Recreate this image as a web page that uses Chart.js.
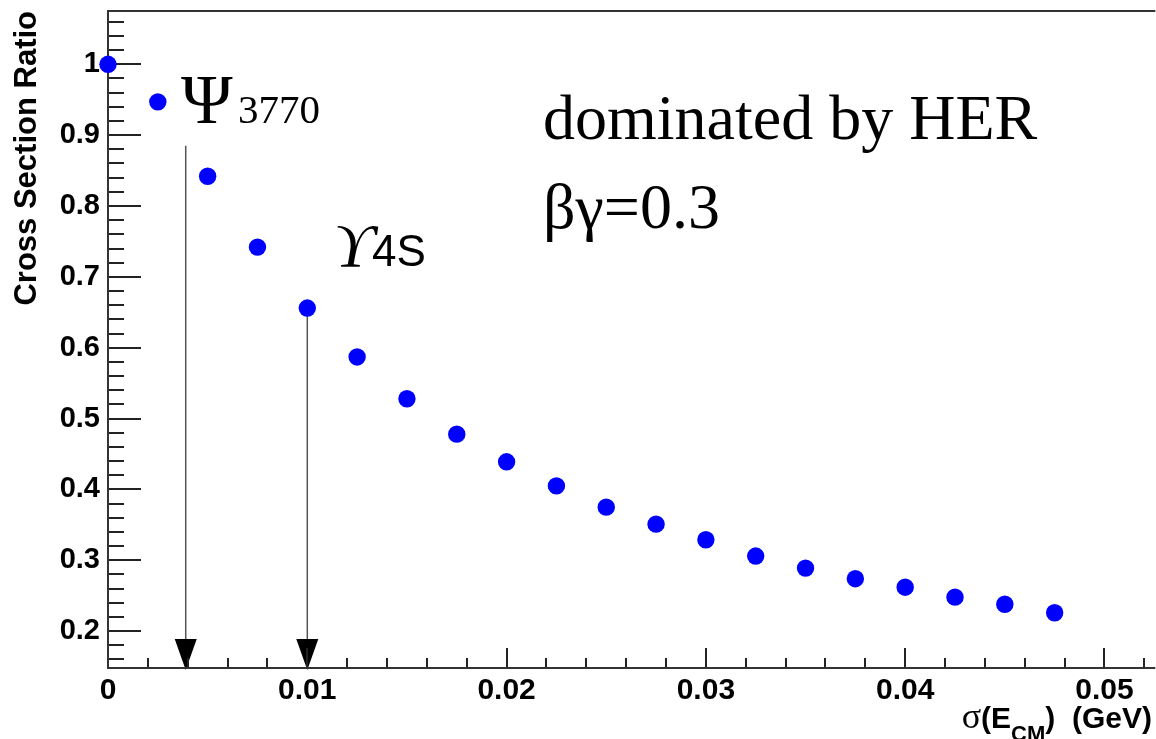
<!DOCTYPE html>
<html><head><meta charset="utf-8">
<script src="https://cdn.jsdelivr.net/npm/chart.js@4/dist/chart.umd.min.js"></script>
<style>html,body{margin:0;padding:0;background:#fff;overflow:hidden;}
#wrap{position:relative;width:1162px;height:739px;}</style>
</head><body><div id="wrap"><canvas id="c" width="1162" height="739"></canvas></div>
<script>
// ---- data ----
const sigmaE = [0, 0.0025, 0.005, 0.0075, 0.01, 0.0125, 0.015, 0.0175, 0.02, 0.0225,
                0.025, 0.0275, 0.03, 0.0325, 0.035, 0.0375, 0.04, 0.0425, 0.045, 0.0475];
const ratio  = [1.000, 0.947, 0.842, 0.742, 0.656, 0.587, 0.528, 0.478, 0.439, 0.405,
                0.375, 0.351, 0.329, 0.306, 0.289, 0.274, 0.262, 0.248, 0.238, 0.226];
const xTickValues = [0, 0.01, 0.02, 0.03, 0.04, 0.05];
const xTickLabels = ['0', '0.01', '0.02', '0.03', '0.04', '0.05'];
const yTickValues = [0.2, 0.3, 0.4, 0.5, 0.6, 0.7, 0.8, 0.9, 1.0];
const yTickLabels = ['0.2', '0.3', '0.4', '0.5', '0.6', '0.7', '0.8', '0.9', '1'];
const arrowX   = [0.0039, 0.01];
const arrowTop = [0.885, 0.653];

const X_MIN = 0, X_MAX = 0.05245, Y_MIN = 0.148, Y_MAX = 1.0752;

const framePlugin = {
  id: 'frame',
  beforeDatasetsDraw(chart) {
    const {ctx, chartArea: a, scales: {x, y}} = chart;
    ctx.save();
    // arrows
    arrowX.forEach((xv, i) => {
      const px = x.getPixelForValue(xv);
      const pt = y.getPixelForValue(arrowTop[i]);
      const pb = a.bottom;
      ctx.strokeStyle = '#555'; ctx.lineWidth = 1.5;
      ctx.beginPath(); ctx.moveTo(px, pt); ctx.lineTo(px, pb - 20); ctx.stroke();
      ctx.fillStyle = '#000';
      ctx.beginPath(); ctx.moveTo(px - 11, pb - 29); ctx.lineTo(px + 11, pb - 29); ctx.lineTo(px, pb + 2); ctx.closePath(); ctx.fill();
    });
    // ticks
    ctx.strokeStyle = '#222'; ctx.lineWidth = 2;
    ctx.beginPath();
    for (let k = 8; k <= 53; k++) {
      const v = k * 0.02;
      if (v < Y_MIN || v > Y_MAX) continue;
      const py = Math.round(y.getPixelForValue(v));
      const major = (k % 5 === 0);
      ctx.moveTo(a.left, py); ctx.lineTo(a.left + (major ? 33 : 16), py);
    }
    for (let k = 1; k <= 26; k++) {
      const v = k * 0.002;
      if (v > X_MAX) continue;
      const px = Math.round(x.getPixelForValue(v));
      const major = (k % 5 === 0);
      ctx.moveTo(px, a.bottom); ctx.lineTo(px, a.bottom - (major ? 20 : 10));
    }
    ctx.stroke();
    // frame
    ctx.strokeStyle = '#333'; ctx.lineWidth = 2;
    ctx.beginPath();
    ctx.moveTo(a.right + 2, a.top); ctx.lineTo(a.left, a.top); ctx.lineTo(a.left, a.bottom); ctx.lineTo(a.right + 2, a.bottom);
    ctx.stroke();
    ctx.restore();
  },
  afterDraw(chart) {
    const {ctx} = chart;
    ctx.save();
    ctx.fillStyle = '#000';
    ctx.textBaseline = 'alphabetic';
    ctx.textAlign = 'left';
    // x axis title
    const f1 = 'bold 30px "Liberation Sans", Arial, sans-serif';
    const fs = '36px "Liberation Serif", "DejaVu Serif", serif';
    const f2 = 'bold 22px "Liberation Sans", Arial, sans-serif';
    ctx.font = fs; const wS = ctx.measureText('σ').width;
    ctx.font = f1; const wA = ctx.measureText('(E').width;
    ctx.font = f2; const wB = ctx.measureText('CM').width;
    ctx.font = f1; const wC = ctx.measureText(')  (GeV)').width;
    let xx = 1152 - (wS + wA + wB + wC);
    const base = 728;
    ctx.font = fs; ctx.fillText('σ', xx, base); xx += wS;
    ctx.font = f1; ctx.fillText('(E', xx, base); xx += wA;
    ctx.font = f2; ctx.fillText('CM', xx, base + 13); xx += wB;
    ctx.font = f1; ctx.fillText(')  (GeV)', xx, base);
    // annotations
    ctx.font = '70px "Liberation Serif", "Times New Roman", serif';
    ctx.fillText('Ψ', 181, 123);
    ctx.font = '41px "Liberation Serif", "Times New Roman", serif';
    ctx.fillText('3770', 238, 123);
    ctx.font = 'italic 62px "Liberation Serif", "DejaVu Serif", serif';
    ctx.fillText('ϒ', 334, 266);
    ctx.font = '44px "Liberation Sans", Arial, sans-serif';
    ctx.fillText('4S', 372, 266);
    ctx.font = '64px "Liberation Serif", "Times New Roman", serif';
    ctx.fillText('dominated by HER', 543, 139);
    ctx.fillText('βγ=0.3', 543, 228);
    ctx.restore();
  }
};

new Chart(document.getElementById('c'), {
  type: 'scatter',
  data: {
    datasets: [{
      data: sigmaE.map((s, i) => ({x: s, y: ratio[i]})),
      backgroundColor: '#0000ff', borderColor: '#0000ff', borderWidth: 0,
      pointRadius: 8.7, pointHoverRadius: 8.7, showLine: false, clip: false
    }]
  },
  options: {
    responsive: false, animation: false, devicePixelRatio: 1,
    layout: {padding: {top: 11, left: 0, right: 0, bottom: 0}},
    plugins: {legend: {display: false}, tooltip: {enabled: false}},
    events: [],
    scales: {
      x: {
        type: 'linear', min: X_MIN, max: X_MAX,
        afterFit(s) { s.height = 71; s.paddingLeft = 0; s.paddingRight = 0; s.paddingTop = 0; s.paddingBottom = 0; },
        afterBuildTicks(s) { s.ticks = xTickValues.map(v => ({value: v})); },
        grid: {display: false, drawTicks: false},
        border: {display: false},
        ticks: {
          autoSkip: false, maxRotation: 0, minRotation: 0, padding: 5, color: '#000',
          font: {family: '"Liberation Sans", Arial, sans-serif', size: 30, weight: 'bold'},
          callback(v) { const i = xTickValues.findIndex(t => Math.abs(t - v) < 1e-9); return i >= 0 ? xTickLabels[i] : ''; }
        }
      },
      y: {
        type: 'linear', min: Y_MIN, max: Y_MAX,
        afterFit(s) { s.width = 108; s.paddingTop = 0; s.paddingBottom = 0; s.paddingLeft = 0; s.paddingRight = 0; },
        afterBuildTicks(s) { s.ticks = yTickValues.map(v => ({value: v})); },
        grid: {display: false, drawTicks: false},
        border: {display: false},
        ticks: {
          autoSkip: false, padding: 8, color: '#000',
          font: {family: '"Liberation Sans", Arial, sans-serif', size: 29, weight: 'bold'},
          callback(v) { const i = yTickValues.findIndex(t => Math.abs(t - v) < 1e-9); return i >= 0 ? yTickLabels[i] : ''; }
        },
        title: {
          display: true, text: 'Cross Section Ratio', align: 'end', color: '#000',
          font: {family: '"Liberation Sans", Arial, sans-serif', size: 31, weight: 'bold'},
          padding: {top: 9, bottom: 0}
        }
      }
    }
  },
  plugins: [framePlugin]
});
</script></body></html>
